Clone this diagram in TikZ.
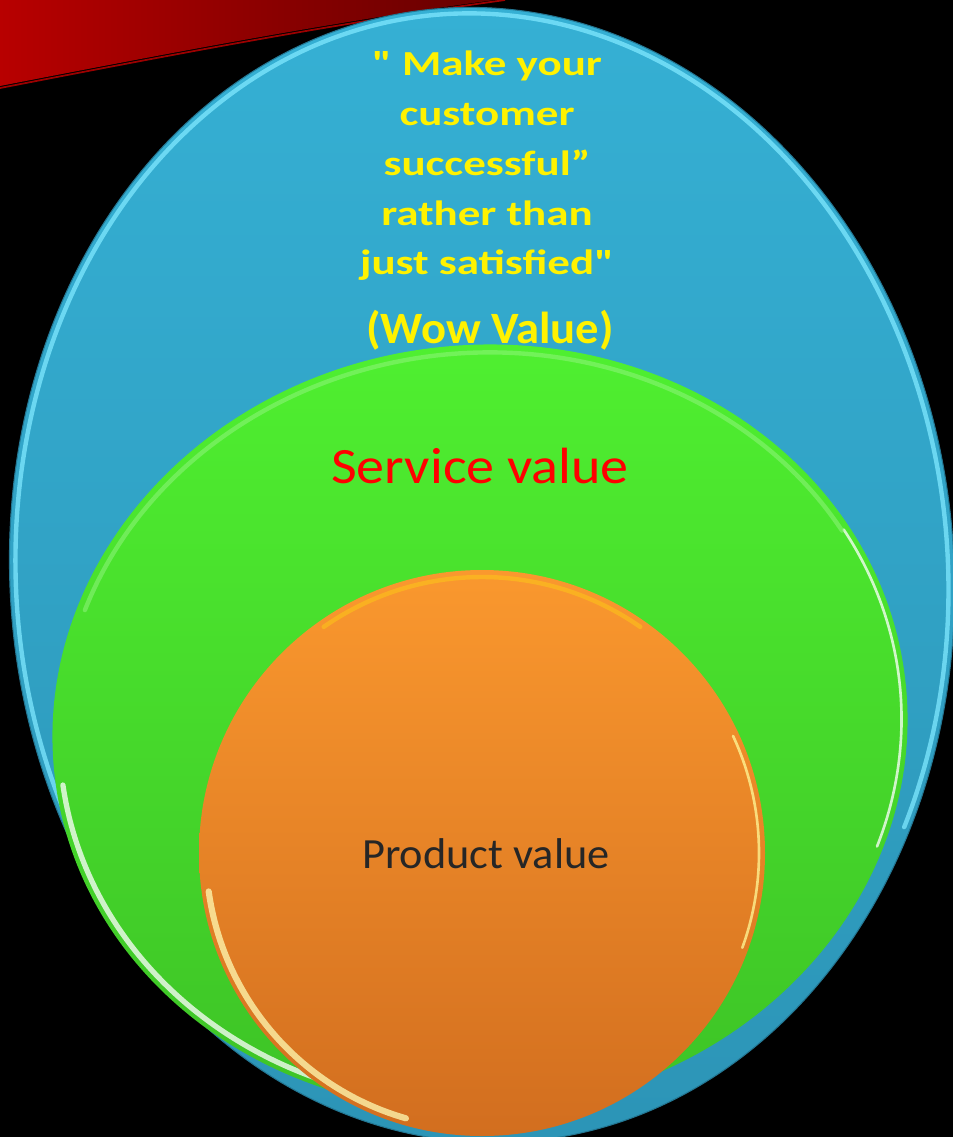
\documentclass[tikz,border=0pt]{standalone}
\usepackage{fontspec}
\setmainfont{Carlito}[Ligatures=TeXOff]
\usetikzlibrary{positioning}

\definecolor{swoosh}{HTML}{B80000}
\definecolor{wowblue}{HTML}{35B0D4}
\definecolor{wowbluedark}{HTML}{2C94B6}
\definecolor{wowrim}{HTML}{7FE8FF}
\definecolor{servgreen}{HTML}{4FEF30}
\definecolor{servgreendark}{HTML}{3DC226}
\definecolor{prodorange}{HTML}{FA982E}
\definecolor{prodorangedark}{HTML}{D26E1F}

\tikzset{
  motto/.style={text=yellow, align=center, font=\bfseries\fontsize{20}{28.3}\selectfont},
  gloss/.style={line width=2.5pt, line cap=round, opacity=.75},
}

\begin{document}
\begin{tikzpicture}[x=0.02cm, y=-0.02cm]
  \useasboundingbox (0,0) rectangle (953,1137);
  \fill[black] (0,0) rectangle (953,1137);

  % red band in the corner
  \shade[left color=swoosh, right color=swoosh!55!black]
    (0,0) -- (495,0) .. controls (330,22) and (160,55) .. (0,86) -- cycle;
  \draw[swoosh!85!black, line width=1pt] (505,0) .. controls (330,24) and (160,57) .. (0,88);

  % outer ellipse
  \coordinate (wowc) at (482,575);
  \begin{scope}[rotate around={4:(wowc)}]
    \shade[top color=wowblue, bottom color=wowbluedark, draw=wowbluedark!80!black, line width=.6pt]
      (wowc) ellipse [x radius=472, y radius=568];
    \draw[wowrim, gloss] (wowc) ++(150:466 and 562) arc[start angle=150, end angle=390, x radius=466, y radius=562];
  \end{scope}

  % middle ellipse
  \coordinate (servc) at (480,728);
  \begin{scope}[rotate around={6:(servc)}]
    \shade[top color=servgreen, bottom color=servgreendark] (servc) ellipse [x radius=428, y radius=383];
    \draw[white, gloss, line width=3pt] (servc) ++(100:421 and 376) arc[start angle=100, end angle=178, x radius=421, y radius=376];
    \draw[white, gloss, line width=1.5pt] (servc) ++(-25:422 and 377) arc[start angle=-25, end angle=25, x radius=422, y radius=377];
    \draw[servgreen!60!white, gloss, opacity=.5] (servc) ++(205:420 and 375) arc[start angle=205, end angle=335, x radius=420, y radius=375];
  \end{scope}

  % inner circle
  \coordinate (prodc) at (482,853);
  \shade[top color=prodorange, bottom color=prodorangedark] (prodc) circle[radius=283];
  \draw[yellow!30!white, gloss, line width=3.5pt] (prodc) ++(106:276) arc[start angle=106, end angle=172, radius=276];
  \draw[yellow!40!white, gloss, line width=1.5pt] (prodc) ++(-25:277) arc[start angle=-25, end angle=20, radius=277];
  \draw[prodorange!50!yellow, gloss, opacity=.5] (prodc) ++(235:276) arc[start angle=235, end angle=305, radius=276];

  % labels
  \node[motto, anchor=north, xscale=1.28, transform shape] (motto) at (487,45)
    {" Make your\\customer\\successful”\\rather than\\just satisfied"};
  \node[motto, font=\bfseries\fontsize{25.5}{30}\selectfont, xscale=1.04, transform shape] (wow) at (490,330) {(Wow Value)};
  \node[text=red, font=\fontsize{29}{34}\selectfont, xscale=1.1, transform shape] (service) at (480,466) {Service value};
  \node[text=black!85, font=\fontsize{24.5}{29}\selectfont, xscale=1.03, transform shape] (product) at (486,854) {Product value};
\end{tikzpicture}
\end{document}
